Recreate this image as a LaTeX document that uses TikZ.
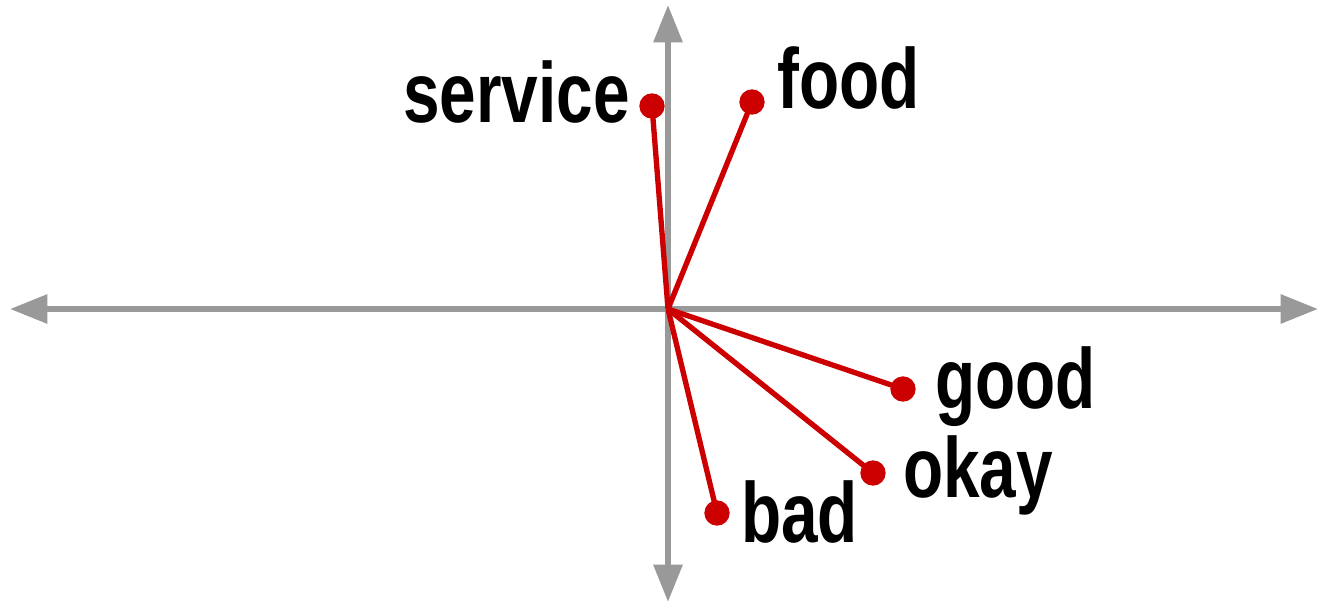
\documentclass[tikz,border=0pt]{standalone}
\usepackage{fontspec}
\setmainfont{Liberation Sans}[FakeStretch=0.77]
\usepackage{xcolor}
\usetikzlibrary{arrows.meta}
\definecolor{axisgray}{HTML}{999999}
\definecolor{vecred}{HTML}{CC0000}

\begin{document}
\begin{tikzpicture}[x=0.75pt,y=-0.75pt,
  axis/.style={draw=axisgray, line width=4.5pt,
    {Triangle[length=28pt,width=21pt]}-{Triangle[length=28pt,width=21pt]}},
  vec/.style={draw=vecred, line width=4pt},
  dot/.style={circle, fill=vecred, inner sep=0pt, minimum size=19pt},
  word/.style={inner sep=0pt, font=\fontsize{64}{64}\selectfont\bfseries}]
\useasboundingbox (0,0) rectangle (1319,603);
\coordinate (O) at (668,309);
\coordinate (west) at (10,309);
\coordinate (east) at (1318,309);
\coordinate (north) at (668,5);
\coordinate (south) at (668,602);
\draw[axis] (west) -- (east);
\draw[axis] (south) -- (north);
% word vectors
\node[dot] (service) at (652,106) {};
\node[dot] (food) at (752,102) {};
\node[dot] (good) at (903,389) {};
\node[dot] (okay) at (873,473) {};
\node[dot] (bad) at (717,513) {};
\foreach \w in {service,food,good,okay,bad}
  \draw[vec] (O) -- (\w.center);
\node[word, anchor=base east] (serviceLbl) at (630,122) {service};
\node[word, anchor=base west] (foodLbl) at (777,108) {food};
\node[word, anchor=base west] (goodLbl) at (935,408) {good};
\node[word, anchor=base west] (okayLbl) at (903,497) {okay};
\node[word, anchor=base west] (badLbl) at (741,542) {bad};
\end{tikzpicture}
\end{document}
